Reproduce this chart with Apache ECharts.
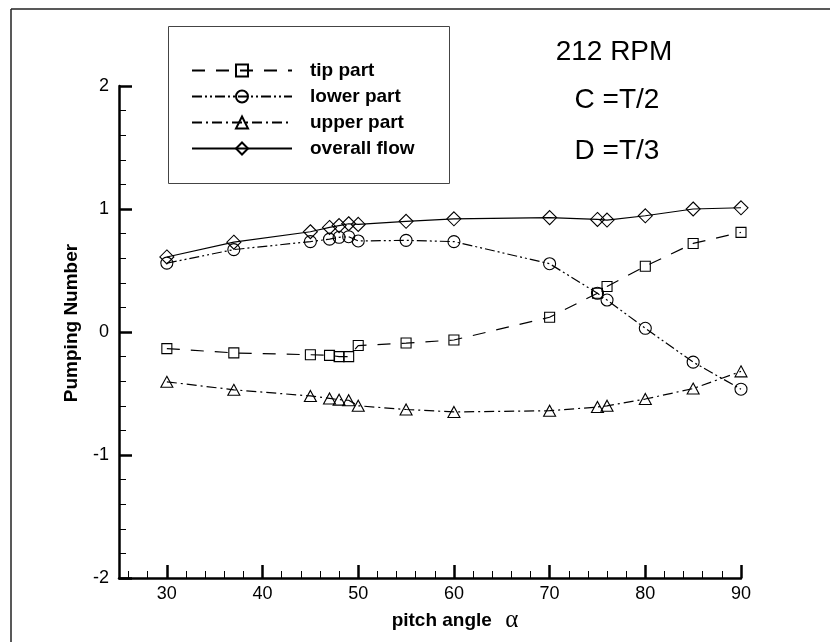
<!DOCTYPE html>
<html><head><meta charset="utf-8">
<script src="https://cdn.jsdelivr.net/npm/echarts@6/dist/echarts.min.js"></script>
<style>html,body{margin:0;padding:0;background:#fff}#c{width:830px;height:642px}</style>
</head><body><div id="c"></div>
<script>
const pitchAngles = [30, 37, 45, 47, 48, 49, 50, 55, 60, 70, 75, 76, 80, 85, 90];
const tipPart     = [-0.135, -0.17, -0.185, -0.19, -0.2, -0.2, -0.11, -0.09, -0.065, 0.12, 0.315, 0.37, 0.535, 0.72, 0.81];
const lowerPart   = [0.56, 0.67, 0.735, 0.755, 0.77, 0.775, 0.74, 0.745, 0.735, 0.555, 0.315, 0.26, 0.03, -0.245, -0.465];
const upperPart   = [-0.405, -0.47, -0.52, -0.54, -0.55, -0.555, -0.6, -0.63, -0.65, -0.64, -0.61, -0.6, -0.545, -0.46, -0.32];
const overallFlow = [0.61, 0.73, 0.815, 0.85, 0.865, 0.88, 0.875, 0.90, 0.92, 0.93, 0.915, 0.91, 0.945, 1.0, 1.01];
const xMajorTicks = [30, 40, 50, 60, 70, 80, 90];
const xMinorTicks = [26, 28, 32, 34, 36, 38, 42, 44, 46, 48, 52, 54, 56, 58, 62, 64, 66, 68, 72, 74, 76, 78, 82, 84, 86, 88];
const seriesNames = ['tip part', 'lower part', 'upper part', 'overall flow'];
const infoTexts = ['212 RPM', 'C =T/2', 'D =T/3'];

const FONT = 'Liberation Sans, Arial, sans-serif';
const chart = echarts.init(document.getElementById('c'), null, {renderer: 'canvas'});

function mk(name, vals, symbol, size, dash) {
  return {
    name: name,
    type: 'line',
    data: pitchAngles.map((x, i) => [x, vals[i]]),
    symbol: symbol,
    symbolSize: size,
    showAllSymbol: true,
    lineStyle: {color: '#000', width: 1.2, type: dash},
    itemStyle: {color: 'rgba(255,255,255,0)', borderColor: '#000', borderWidth: 1.1},
    emphasis: {disabled: true},
    animation: false
  };
}

const axisTextStyle = {color: '#000', fontFamily: FONT, fontSize: 18};

chart.setOption({
  backgroundColor: '#fff',
  animation: false,
  grid: {left: 119, right: 89, top: 86, bottom: 64},
  xAxis: [{
    type: 'value', min: 25, max: 90,
    axisLine: {show: true, onZero: false, lineStyle: {color: '#000', width: 2.5}},
    axisTick: {show: true, inside: true, length: 13, lineStyle: {color: '#000', width: 2.5}, customValues: xMajorTicks},
    axisLabel: Object.assign({margin: 7, customValues: xMajorTicks}, axisTextStyle),
    splitLine: {show: false},
    name: '{b|pitch angle}    {a|α}',
    nameLocation: 'middle',
    nameGap: 23,
    nameTextStyle: {
      padding: [0, 0, 0, 50],
      rich: {
        b: {fontFamily: FONT, fontWeight: 'bold', fontSize: 19, color: '#000'},
        a: {fontFamily: 'Liberation Serif, serif', fontSize: 25, color: '#000'}
      }
    }
  }, {
    type: 'value', min: 25, max: 90, position: 'bottom', offset: 0,
    axisLine: {show: false, onZero: false},
    axisTick: {show: true, inside: true, length: 7, lineStyle: {color: '#000', width: 1}, customValues: xMinorTicks},
    axisLabel: {show: false},
    splitLine: {show: false}
  }],
  yAxis: {
    type: 'value', min: -2, max: 2, interval: 1,
    axisLine: {show: true, onZero: false, lineStyle: {color: '#000', width: 2.5}},
    axisTick: {show: true, inside: true, length: 13, lineStyle: {color: '#000', width: 2.5}},
    minorTick: {show: true, splitNumber: 5, length: 7, lineStyle: {color: '#000', width: 1}},
    axisLabel: Object.assign({margin: 10}, axisTextStyle),
    splitLine: {show: false},
    name: 'Pumping Number',
    nameLocation: 'middle',
    nameGap: 38,
    nameTextStyle: {fontFamily: FONT, fontWeight: 'bold', fontSize: 19, color: '#000', padding: [0, 0, 0, 18]}
  },
  legend: {
    orient: 'vertical',
    left: 191, top: 61,
    padding: 0,
    itemWidth: 100, itemHeight: 15, itemGap: 7,
    data: seriesNames,
    selectedMode: false,
    textStyle: {fontFamily: FONT, fontWeight: 'bold', fontSize: 19, color: '#000', padding: [0, 0, 0, 13]}
  },
  graphic: [
    {type: 'line', shape: {x1: 11, y1: 9, x2: 830, y2: 9}, style: {stroke: '#222', lineWidth: 1.5}, silent: true},
    {type: 'line', shape: {x1: 11, y1: 9, x2: 11, y2: 642}, style: {stroke: '#222', lineWidth: 1.5}, silent: true},
    {type: 'rect', shape: {x: 168.5, y: 26.5, width: 281, height: 157}, style: {fill: 'none', stroke: '#444', lineWidth: 1}, silent: true, z: 10},
    {type: 'text', x: 614, y: 52, style: {text: infoTexts[0], fontFamily: FONT, fontSize: 28, fill: '#000', align: 'center', verticalAlign: 'middle'}},
    {type: 'text', x: 617, y: 100, style: {text: infoTexts[1], fontFamily: FONT, fontSize: 28, fill: '#000', align: 'center', verticalAlign: 'middle'}},
    {type: 'text', x: 617, y: 151, style: {text: infoTexts[2], fontFamily: FONT, fontSize: 28, fill: '#000', align: 'center', verticalAlign: 'middle'}}
  ],
  series: [
    mk(seriesNames[0], tipPart, 'rect', 10, [13, 11]),
    mk(seriesNames[1], lowerPart, 'circle', 12, [10, 3, 2, 3, 2, 3]),
    mk(seriesNames[2], upperPart, 'triangle', [12, 11], [10, 4, 2, 4]),
    mk(seriesNames[3], overallFlow, 'diamond', [14, 14], 'solid')
  ]
});
</script></body></html>
